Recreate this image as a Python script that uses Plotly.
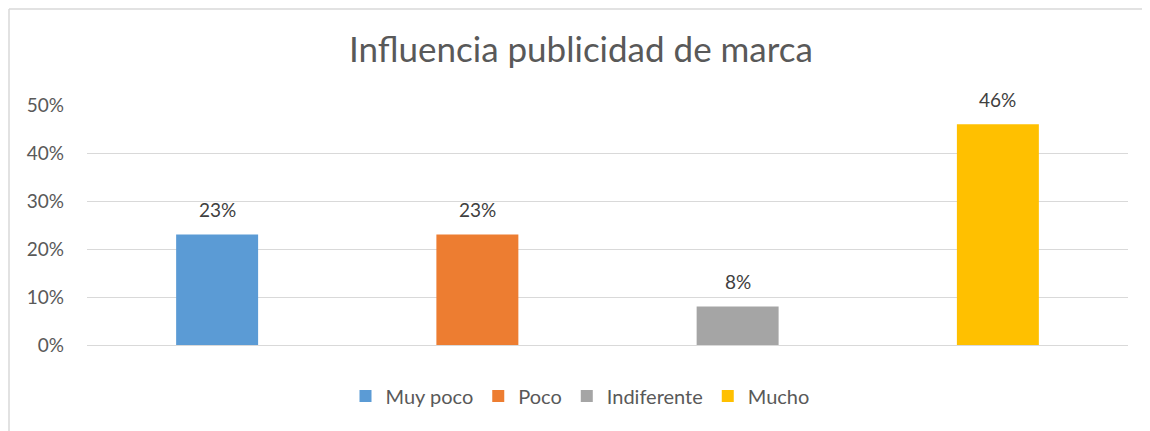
import plotly.graph_objects as go

categories = ["Muy poco", "Poco", "Indiferente", "Mucho"]
values = [0.23, 0.23, 0.08, 0.46]
colors = ["#5b9bd5", "#ed7d31", "#a5a5a5", "#ffc000"]
tick_vals = [0, 0.1, 0.2, 0.3, 0.4, 0.5]
tick_text = ["0%", "10%", "20%", "30%", "40%", "50%"]

FONT = "Lato"
OFF = 8  # page body margin offset

fig = go.Figure()
for c, v, col in zip(categories, values, colors):
    fig.add_trace(go.Bar(x=[c], y=[v], name=c, marker_color=col, width=0.315,
                         marker_line_width=0, hoverinfo="skip"))
    fig.add_annotation(x=c, y=v, text=f"{round(v*100)}%", showarrow=False,
                       yanchor="middle", yshift=25,
                       font=dict(family=FONT, size=19, color="#404040"))

W, H = 1150, 431
L, R, T, B = 87 - OFF, 22 + OFF, 105 - OFF, 86 + OFF
pw, ph = W - L - R, H - T - B

def px(x):
    return (x - OFF - L) / pw

def py(y):
    return (H - B - (y - OFF)) / ph

border = dict(color="#d9d9d9", width=1.5)
fig.add_shape(type="line", xref="paper", yref="paper",
              x0=px(OFF + 1), x1=px(1150), y0=py(OFF + 1), y1=py(OFF + 1), line=border)
fig.add_shape(type="line", xref="paper", yref="paper",
              x0=px(OFF + 1), x1=px(OFF + 1), y0=py(OFF + 1), y1=py(431), line=border)

fig.update_layout(
    width=W, height=H,
    margin=dict(l=L, r=R, t=T, b=B),
    paper_bgcolor="white", plot_bgcolor="white",
    barmode="overlay",
    title=dict(text="Influencia publicidad de marca", x=(581 - OFF) / W, xanchor="center",
               y=1 - (50 - OFF) / H, yanchor="middle",
               font=dict(family=FONT, size=35, color="#595959")),
    showlegend=True,
    legend=dict(orientation="h", x=px(580), xanchor="center",
                y=py(396), yanchor="middle",
                font=dict(family=FONT, size=20, color="#595959"),
                itemclick=False, traceorder="normal", itemwidth=30),
    font=dict(family=FONT),
)
fig.update_xaxes(showticklabels=False, showgrid=False, zeroline=False, showline=False,
                 categoryorder="array", categoryarray=categories, range=[-0.5, 3.5])
fig.update_yaxes(range=[0, 0.5], tickvals=tick_vals, ticktext=tick_text,
                 showgrid=True, gridcolor="#d9d9d9", gridwidth=1.3,
                 zeroline=True, zerolinecolor="#d9d9d9", zerolinewidth=1.3,
                 showline=False, ticks="", ticklabelstandoff=22,
                 tickfont=dict(family=FONT, size=19, color="#595959"))

fig.write_html("out.html")
